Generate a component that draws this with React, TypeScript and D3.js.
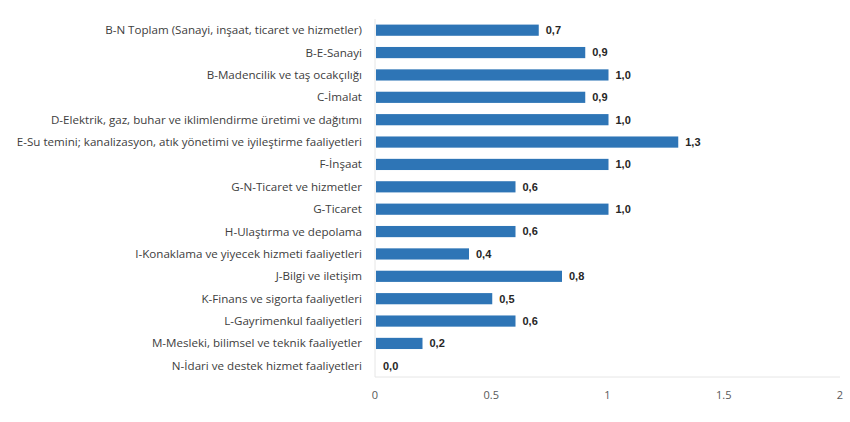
import React from "react";
import * as d3 from "d3";

const categories = [
  "B-N Toplam (Sanayi, inşaat, ticaret ve hizmetler)",
  "B-E-Sanayi",
  "B-Madencilik ve taş ocakçılığı",
  "C-İmalat",
  "D-Elektrik, gaz, buhar ve iklimlendirme üretimi ve dağıtımı",
  "E-Su temini; kanalizasyon, atık yönetimi ve iyileştirme faaliyetleri",
  "F-İnşaat",
  "G-N-Ticaret ve hizmetler",
  "G-Ticaret",
  "H-Ulaştırma ve depolama",
  "I-Konaklama ve yiyecek hizmeti faaliyetleri",
  "J-Bilgi ve iletişim",
  "K-Finans ve sigorta faaliyetleri",
  "L-Gayrimenkul faaliyetleri",
  "M-Mesleki, bilimsel ve teknik faaliyetler",
  "N-İdari ve destek hizmet faaliyetleri",
];
const values = [0.7, 0.9, 1.0, 0.9, 1.0, 1.3, 1.0, 0.6, 1.0, 0.6, 0.4, 0.8, 0.5, 0.6, 0.2, 0.0];
const ticks = [0, 0.5, 1, 1.5, 2];

const W = 850;
const H = 422;
const left = 375;
const right = 840;
const top = 19;
const bottom = 377;

export default function App() {
  const x = d3.scaleLinear().domain([0, 2]).range([left, right]);
  const y = d3
    .scaleBand<string>()
    .domain(categories)
    .range([top, bottom])
    .paddingInner(0.5)
    .paddingOuter(0.25);
  const bw = y.bandwidth();
  const fmt = (v: number) => v.toFixed(1).replace(".", ",");
  return (
    <svg
      width={W}
      height={H}
      style={{ position: "absolute", left: 0, top: 0, background: "#fff" }}
    >
      <line x1={left} x2={left} y1={top} y2={bottom} stroke="#e6e6e6" />
      <line x1={left} x2={right} y1={bottom} y2={bottom} stroke="#e6e6e6" />
      {categories.map((c, i) => {
        const yc = (y(c) as number) + bw / 2;
        return (
          <g key={c}>
            <text
              x={left - 13}
              y={yc}
              dy="0.35em"
              textAnchor="end"
              fontFamily="'Open Sans', sans-serif"
              fontSize={11.6}
              fill="#404040"
            >
              {c}
            </text>
            <rect
              x={x(0) + 1}
              y={y(c) as number}
              width={Math.max(0, x(values[i]) - x(0))}
              height={bw}
              fill="#2e75b6"
            />
            <text
              x={x(values[i]) + 8}
              y={yc}
              dy="0.35em"
              fontFamily="'Liberation Sans', Arial, sans-serif"
              fontWeight="bold"
              fontSize={11}
              fill="#262626"
            >
              {fmt(values[i])}
            </text>
          </g>
        );
      })}
      {ticks.map((t) => (
        <text
          key={t}
          x={x(t)}
          y={395}
          dy="0.35em"
          textAnchor="middle"
          fontFamily="'Open Sans', sans-serif"
          fontSize={11}
          fill="#595959"
        >
          {String(t)}
        </text>
      ))}
    </svg>
  );
}
